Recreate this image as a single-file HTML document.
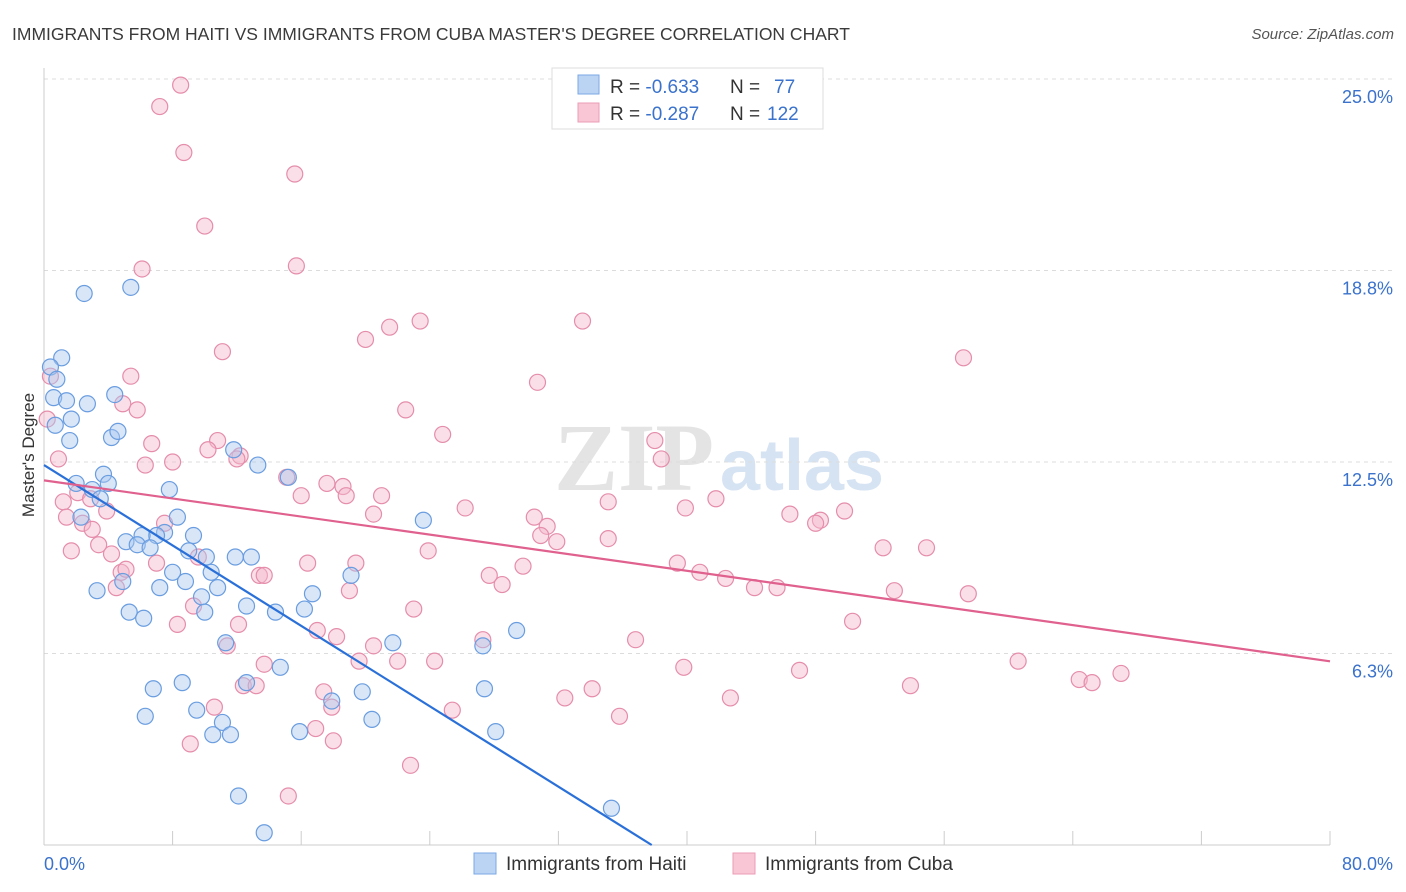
<!DOCTYPE html>
<html><head><meta charset="utf-8"><style>
body{margin:0;background:#fff;font-family:"Liberation Sans",sans-serif;}
</style></head><body>
<svg id="chart" width="1406" height="892" xmlns="http://www.w3.org/2000/svg" style="display:block">
<text x="12" y="40" font-size="17.5" fill="#3a3a3a">IMMIGRANTS FROM HAITI VS IMMIGRANTS FROM CUBA MASTER'S DEGREE CORRELATION CHART</text>
<text x="1394" y="39" font-size="15" fill="#555" font-style="italic" text-anchor="end">Source: ZipAtlas.com</text>
<g>
<text x="634" y="490" font-size="96" fill="#e4e4e4" text-anchor="middle" font-family="Liberation Serif,serif" font-weight="bold">ZIP</text>
<text x="802" y="490" font-size="72" fill="#d6e3f3" text-anchor="middle" font-weight="bold">atlas</text>
</g>
<g id="grid"></g><g id="axes"></g><g id="pts"></g><g id="lines"></g>
<text transform="translate(34,455) rotate(-90)" font-size="17" fill="#333" text-anchor="middle">Master's Degree</text>
<g>
<rect x="552" y="68" width="271" height="61" fill="#fff" stroke="#ddd"/>
<rect x="578" y="75" width="21" height="19" fill="#bcd4f4" stroke="#7aa8e6"/>
<rect x="578" y="103" width="21" height="19" fill="#f9c6d5" stroke="#ec9db7"/>
<text x="610" y="93" font-size="19" fill="#333">R = <tspan fill="#3a72cc">-0.633</tspan><tspan x="730">N = </tspan><tspan x="774" fill="#3a72cc">77</tspan></text>
<text x="610" y="120" font-size="19" fill="#333">R = <tspan fill="#3a72cc">-0.287</tspan><tspan x="730">N = </tspan><tspan x="767" fill="#3a72cc">122</tspan></text>
</g>
<g>
<rect x="474" y="853" width="22" height="21" fill="#bcd4f4" stroke="#7aa8e6"/>
<text x="506" y="870" font-size="19" fill="#333">Immigrants from Haiti</text>
<rect x="733" y="853" width="22" height="21" fill="#f9c6d5" stroke="#ec9db7"/>
<text x="765" y="870" font-size="19" fill="#333">Immigrants from Cuba</text>
</g>
</svg>
<script>
const yTicks=[25.0,18.75,12.5,6.25];
const yTickLabels=["25.0%","18.8%","12.5%","6.3%"];
const xTickVals=[0,8,16,24,32,40,48,56,64,72,80];
const haitiX=[2.5,5.4,1.1,0.4,0.8,0.6,1.4,2.7,1.7,0.7,1.6,4.4,4.2,4.6,3.7,2.0,3.0,4.0,3.5,7.8,2.3,8.3,7.5,7.0,6.1,5.1,5.8,6.6,9.3,9.0,10.1,11.9,12.9,11.8,13.3,15.2,8.0,10.4,8.8,3.3,4.9,7.2,10.8,9.8,5.3,6.2,10.0,12.6,14.4,16.2,16.7,19.1,23.6,11.3,14.7,12.6,21.7,27.3,29.4,6.8,8.6,19.8,17.9,27.4,6.3,9.5,11.1,10.5,11.6,15.9,20.4,28.1,12.1,35.3,13.7];
const haitiY=[18.0,18.2,15.9,15.6,15.2,14.6,14.5,14.4,13.9,13.7,13.2,14.7,13.3,13.5,12.1,11.8,11.6,11.8,11.3,11.6,10.7,10.7,10.2,10.1,10.1,9.9,9.8,9.7,10.1,9.6,9.4,9.4,9.4,12.9,12.4,12.0,8.9,8.9,8.6,8.3,8.6,8.4,8.4,8.1,7.6,7.4,7.6,7.8,7.6,7.7,8.2,8.8,10.6,6.6,5.8,5.3,6.6,6.5,7.0,5.1,5.3,5.0,4.7,5.1,4.2,4.4,4.0,3.6,3.6,3.7,4.1,3.7,1.6,1.2,0.4];
const cubaX=[8.5,7.2,8.7,15.6,10.0,6.1,15.7,23.4,21.5,20.0,33.5,11.1,57.2,5.4,30.7,4.9,5.8,22.5,24.8,6.7,10.8,10.2,12.2,12.0,6.3,8.0,38.0,38.4,0.9,15.1,17.6,18.6,18.8,21.0,16.0,2.1,1.2,2.9,3.9,1.4,2.4,3.0,26.2,20.5,30.5,31.3,30.9,31.9,35.1,35.1,39.9,41.8,46.4,48.3,48.0,49.8,1.7,3.4,4.2,7.0,9.6,7.5,19.4,16.4,23.9,29.8,27.7,28.5,39.4,40.8,42.4,44.2,45.6,52.2,54.9,52.9,57.5,4.8,5.1,13.4,13.7,4.5,9.3,19.0,23.0,8.3,12.1,17.0,18.2,20.5,27.3,36.8,50.3,11.4,13.7,19.6,22.0,24.3,39.8,47.0,60.6,64.4,65.2,67.0,53.9,12.4,13.2,17.4,17.9,32.4,34.1,42.7,10.6,25.4,35.8,16.9,9.1,18.0,22.8,15.2,0.4,0.2];
const cubaY=[24.8,24.1,22.6,21.9,20.2,18.8,18.9,17.1,16.9,16.5,17.1,16.1,15.9,15.3,15.1,14.4,14.2,14.2,13.4,13.1,13.2,12.9,12.7,12.6,12.4,12.5,13.2,12.6,12.6,12.0,11.8,11.7,11.4,11.4,11.4,11.5,11.2,11.3,10.9,10.7,10.5,10.3,11.0,10.8,10.7,10.4,10.1,9.9,11.2,10.0,11.0,11.3,10.8,10.6,10.5,10.9,9.6,9.8,9.5,9.2,9.4,10.5,9.2,9.2,9.6,9.1,8.8,8.5,9.2,8.9,8.7,8.4,8.4,9.7,9.7,8.3,8.2,8.9,9.0,8.8,8.8,8.4,7.8,8.3,7.7,7.2,7.2,7.0,6.8,6.5,6.7,6.7,7.3,6.5,5.9,6.0,6.0,6.0,5.8,5.7,6.0,5.4,5.3,5.6,5.2,5.2,5.2,5.0,4.5,4.8,5.1,4.8,4.5,4.4,4.2,3.8,3.3,3.4,2.6,1.6,15.3,13.9];
const haitiTrend=[12.4,-0.328];
const cubaTrend=[11.9,-0.0738];
const X0=44,X1=1330,Y0=845,YTOP=79;
const xs=v=>X0+(v/80)*(X1-X0);
const ys=v=>Y0-(v/25)*(Y0-YTOP);
const NS='http://www.w3.org/2000/svg';
function mk(tag,attrs,parent){const e=document.createElementNS(NS,tag);for(const k in attrs)e.setAttribute(k,attrs[k]);document.getElementById(parent).appendChild(e);return e;}
yTicks.forEach((t,i)=>{
 const l=mk('line',{x1:X0,x2:1394,y1:ys(t),y2:ys(t),stroke:'#dcdcdc','stroke-dasharray':'4,4'},'grid');
 
 
 const tx=mk('text',{x:1393,y:ys(t)+24,'font-size':18,fill:'#3a72cc','text-anchor':'end'},'axes');
 tx.textContent=yTickLabels[i];
 
 
});
const ax=mk('line',{x1:X0,x2:X0,y1:68,y2:Y0,stroke:'#ccc'},'axes');


const bx=mk('line',{x1:X0,x2:X1,y1:Y0,y2:Y0,stroke:'#ccc'},'axes');


xTickVals.forEach(v=>{
 const t=mk('line',{x1:xs(v),x2:xs(v),y1:Y0,y2:Y0-14,stroke:'#ccc'},'axes');
 
 
});
const xl0=mk('text',{x:44,y:870,'font-size':18,fill:'#3a72cc'},'axes');xl0.textContent='0.0%';


const xl1=mk('text',{x:1393,y:870,'font-size':18,fill:'#3a72cc','text-anchor':'end'},'axes');xl1.textContent='80.0%';


function pts(X,Y,fill,stroke,name){X.forEach((x,i)=>{
 const c=mk('circle',{cx:xs(x),cy:ys(Y[i]),r:8,fill:fill,'fill-opacity':0.45,stroke:stroke,'stroke-width':1.2},'pts');
 
 
});}
pts(cubaX,cubaY,'#f5b8cb','#e58dab','cuba-point');
pts(haitiX,haitiY,'#a8c8f0','#6a9de0','haiti-point');
const hxEnd=-haitiTrend[0]/haitiTrend[1];
const hl=mk('line',{x1:xs(0),y1:ys(haitiTrend[0]),x2:xs(hxEnd),y2:ys(0),stroke:'#2a70d8','stroke-width':2.2},'lines');


const cl=mk('line',{x1:xs(0),y1:ys(cubaTrend[0]),x2:xs(80),y2:ys(cubaTrend[0]+cubaTrend[1]*80),stroke:'#e0608e','stroke-width':2.2},'lines');


</script>
</body></html>
